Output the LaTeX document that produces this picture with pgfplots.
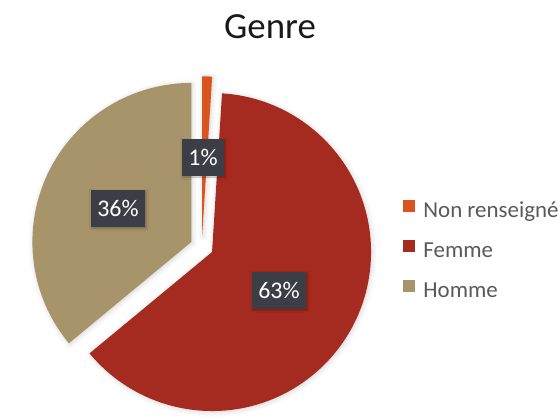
\documentclass[border=0pt]{standalone}
\usepackage{fontspec}
\setmainfont{Carlito}
\usepackage{pgfplots}
\pgfplotsset{compat=1.18}
\usetikzlibrary{shadows.blur}
\definecolor{nrcol}{HTML}{D9541E}
\definecolor{femcol}{HTML}{A52A1F}
\definecolor{homcol}{HTML}{A8946B}
\definecolor{lblbg}{HTML}{3B3E47}
\definecolor{legtext}{HTML}{595959}
% #1 = start (percent), #2 = value (percent), #3 = colour
\newcommand{\pieslice}[3]{%
  \fill[#3, blur shadow={shadow xshift=1bp, shadow yshift=-1bp, shadow blur radius=5bp, shadow opacity=18}]
     (axis cs:201.8,246.8) ++({90-3.6*(#1+#2/2)}:11.5bp)
     -- ++({90-3.6*#1}:159bp)
     arc[start angle={90-3.6*#1}, end angle={90-3.6*(#1+#2)}, radius=159bp] -- cycle;}
\begin{document}
\begin{tikzpicture}
\begin{axis}[
  scale only axis, width=560bp, height=418bp,
  xmin=0, xmax=560, ymin=0, ymax=418, y dir=reverse,
  hide axis, clip=false,
  legend cell align=left,
  legend style={at={(axis cs:403,200)}, anchor=north west, draw=none, fill=none,
    inner sep=0pt, outer sep=0pt, column sep=9bp, row sep=18bp,
    font=\fontsize{23}{26}\selectfont, text=legtext,
    nodes={inner sep=0pt, text height=16bp, text depth=5bp}},
]
\addlegendimage{legend image code/.code={\fill[nrcol] (0bp,0.5bp) rectangle (11bp,11.5bp);}}
\addlegendentry{Non renseigné}
\addlegendimage{legend image code/.code={\fill[femcol] (0bp,0.5bp) rectangle (11bp,11.5bp);}}
\addlegendentry{Femme}
\addlegendimage{legend image code/.code={\fill[homcol] (0bp,0.5bp) rectangle (11bp,11.5bp);}}
\addlegendentry{Homme}
% slices: Non renseigné 1, Femme 63, Homme 36 (clockwise from 12 o'clock)
\pieslice{0}{1}{nrcol}
\pieslice{1}{63}{femcol}
\pieslice{64}{36}{homcol}
% data labels
\tikzset{lbl/.style={fill=lblbg, text=white, font=\fontsize{24}{26}\selectfont,
   inner xsep=6.5bp, inner ysep=0bp, minimum height=37bp,
   blur shadow={shadow xshift=1bp, shadow yshift=-1.5bp, shadow blur radius=2bp, shadow opacity=30}}}
\node[lbl] at (axis cs:203,157) {1\%};
\node[lbl] at (axis cs:118,208) {36\%};
\node[lbl] at (axis cs:279,290) {63\%};
% title
\node[font=\fontsize{37}{40}\selectfont, anchor=base, text=black!90] at (axis cs:270,39) {Genre};
\end{axis}
\pgfresetboundingbox
\path[use as bounding box] (current axis.south west) rectangle (current axis.north east);
\end{tikzpicture}
\end{document}
